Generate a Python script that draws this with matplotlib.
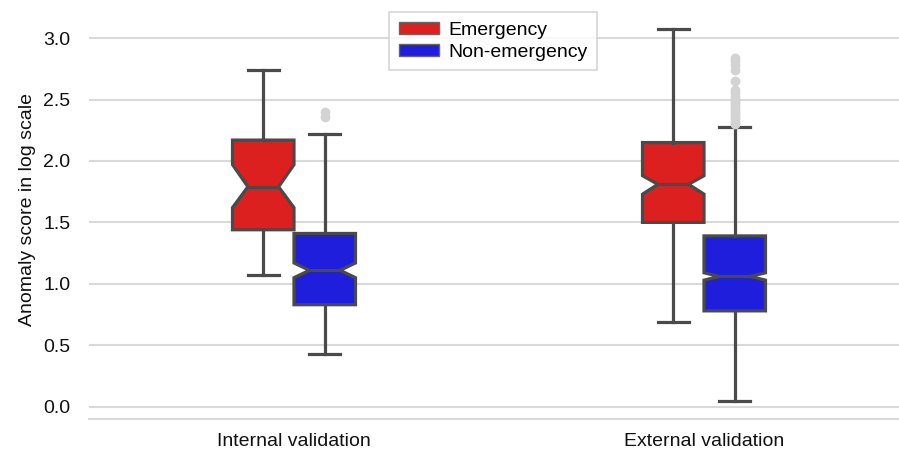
import matplotlib.pyplot as plt
from matplotlib.patches import Patch

plt.rcParams['font.family'] = ['Liberation Sans', 'DejaVu Sans']

groups = ['Internal validation', 'External validation']
classes = ['Emergency', 'Non-emergency']
colors = ['#dc1f1f', '#1e1edc']

# box stats: [internal, external]
whislo = {'Emergency': [1.07, 0.69], 'Non-emergency': [0.43, 0.05]}
q1 = {'Emergency': [1.44, 1.50], 'Non-emergency': [0.83, 0.78]}
med = {'Emergency': [1.79, 1.81], 'Non-emergency': [1.11, 1.06]}
q3 = {'Emergency': [2.17, 2.15], 'Non-emergency': [1.41, 1.39]}
whishi = {'Emergency': [2.74, 3.07], 'Non-emergency': [2.22, 2.28]}
cilo = {'Emergency': [1.62, 1.73], 'Non-emergency': [1.05, 1.03]}
cihi = {'Emergency': [1.97, 1.88], 'Non-emergency': [1.17, 1.09]}
fliers = {
    'Emergency': [[], []],
    'Non-emergency': [
        [2.36, 2.40],
        [2.30, 2.32, 2.34, 2.36, 2.38, 2.40, 2.42, 2.44, 2.46, 2.48,
         2.50, 2.52, 2.55, 2.58, 2.65, 2.74, 2.78, 2.81, 2.84],
    ],
}

fig = plt.figure(figsize=(8.99, 4.51), dpi=100)
ax = fig.add_axes([89 / 899, 32 / 451, 820 / 899, 419 / 451])

w = 0.15
line_c = '#4a4a4a'
for j, cls in enumerate(classes):
    stats = []
    for i in range(len(groups)):
        stats.append({
            'whislo': whislo[cls][i], 'q1': q1[cls][i], 'med': med[cls][i],
            'q3': q3[cls][i], 'whishi': whishi[cls][i],
            'cilo': cilo[cls][i], 'cihi': cihi[cls][i],
            'fliers': fliers[cls][i],
        })
    pos = [i + (j - 0.5) * w for i in range(len(groups))]
    ax.bxp(stats, positions=pos, widths=w, shownotches=True,
           patch_artist=True, manage_ticks=False,
           boxprops=dict(facecolor=colors[j], edgecolor=line_c, linewidth=2.3),
           medianprops=dict(color=line_c, linewidth=2.3),
           whiskerprops=dict(color=line_c, linewidth=2.3),
           capprops=dict(color=line_c, linewidth=2.3),
           flierprops=dict(marker='o', markerfacecolor='#d3d3d3',
                           markeredgecolor='#d3d3d3', markersize=6))

ax.set_xlim(-0.5, 1.5)
ax.set_ylim(-0.1, 3.31)
ax.set_yticks([0.0, 0.5, 1.0, 1.5, 2.0, 2.5, 3.0])
ax.set_yticklabels(['0.0', '0.5', '1.0', '1.5', '2.0', '2.5', '3.0'])
ax.set_xticks(range(len(groups)))
ax.set_xticklabels(groups)
ax.tick_params(axis='both', length=0, labelsize=14, colors='#111111')
ax.tick_params(axis='y', pad=13.5)
ax.tick_params(axis='x', pad=10)
ax.set_ylabel('Anomaly score in log scale', fontsize=14, color='#111111', labelpad=5)
ax.yaxis.grid(True, color='#d9d9d9', linewidth=1.5)
ax.set_axisbelow(True)
for s in ['top', 'left', 'right']:
    ax.spines[s].set_visible(False)
ax.spines['bottom'].set_color('#d9d9d9')
ax.spines['bottom'].set_linewidth(1.5)

handles = [Patch(facecolor=c, edgecolor='#666666', label=l)
           for c, l in zip(colors, classes)]
leg = ax.legend(handles=handles, loc='upper center',
                bbox_to_anchor=(0.493, 1 - 12 / 419), fontsize=14,
                frameon=True, fancybox=False, handlelength=2.05,
                handleheight=0.55, borderpad=0.5, labelspacing=0.25,
                handletextpad=0.5, borderaxespad=0)
leg.get_frame().set_edgecolor('#cccccc')
leg.get_frame().set_linewidth(1.2)

fig.savefig('out.png', dpi=100)
